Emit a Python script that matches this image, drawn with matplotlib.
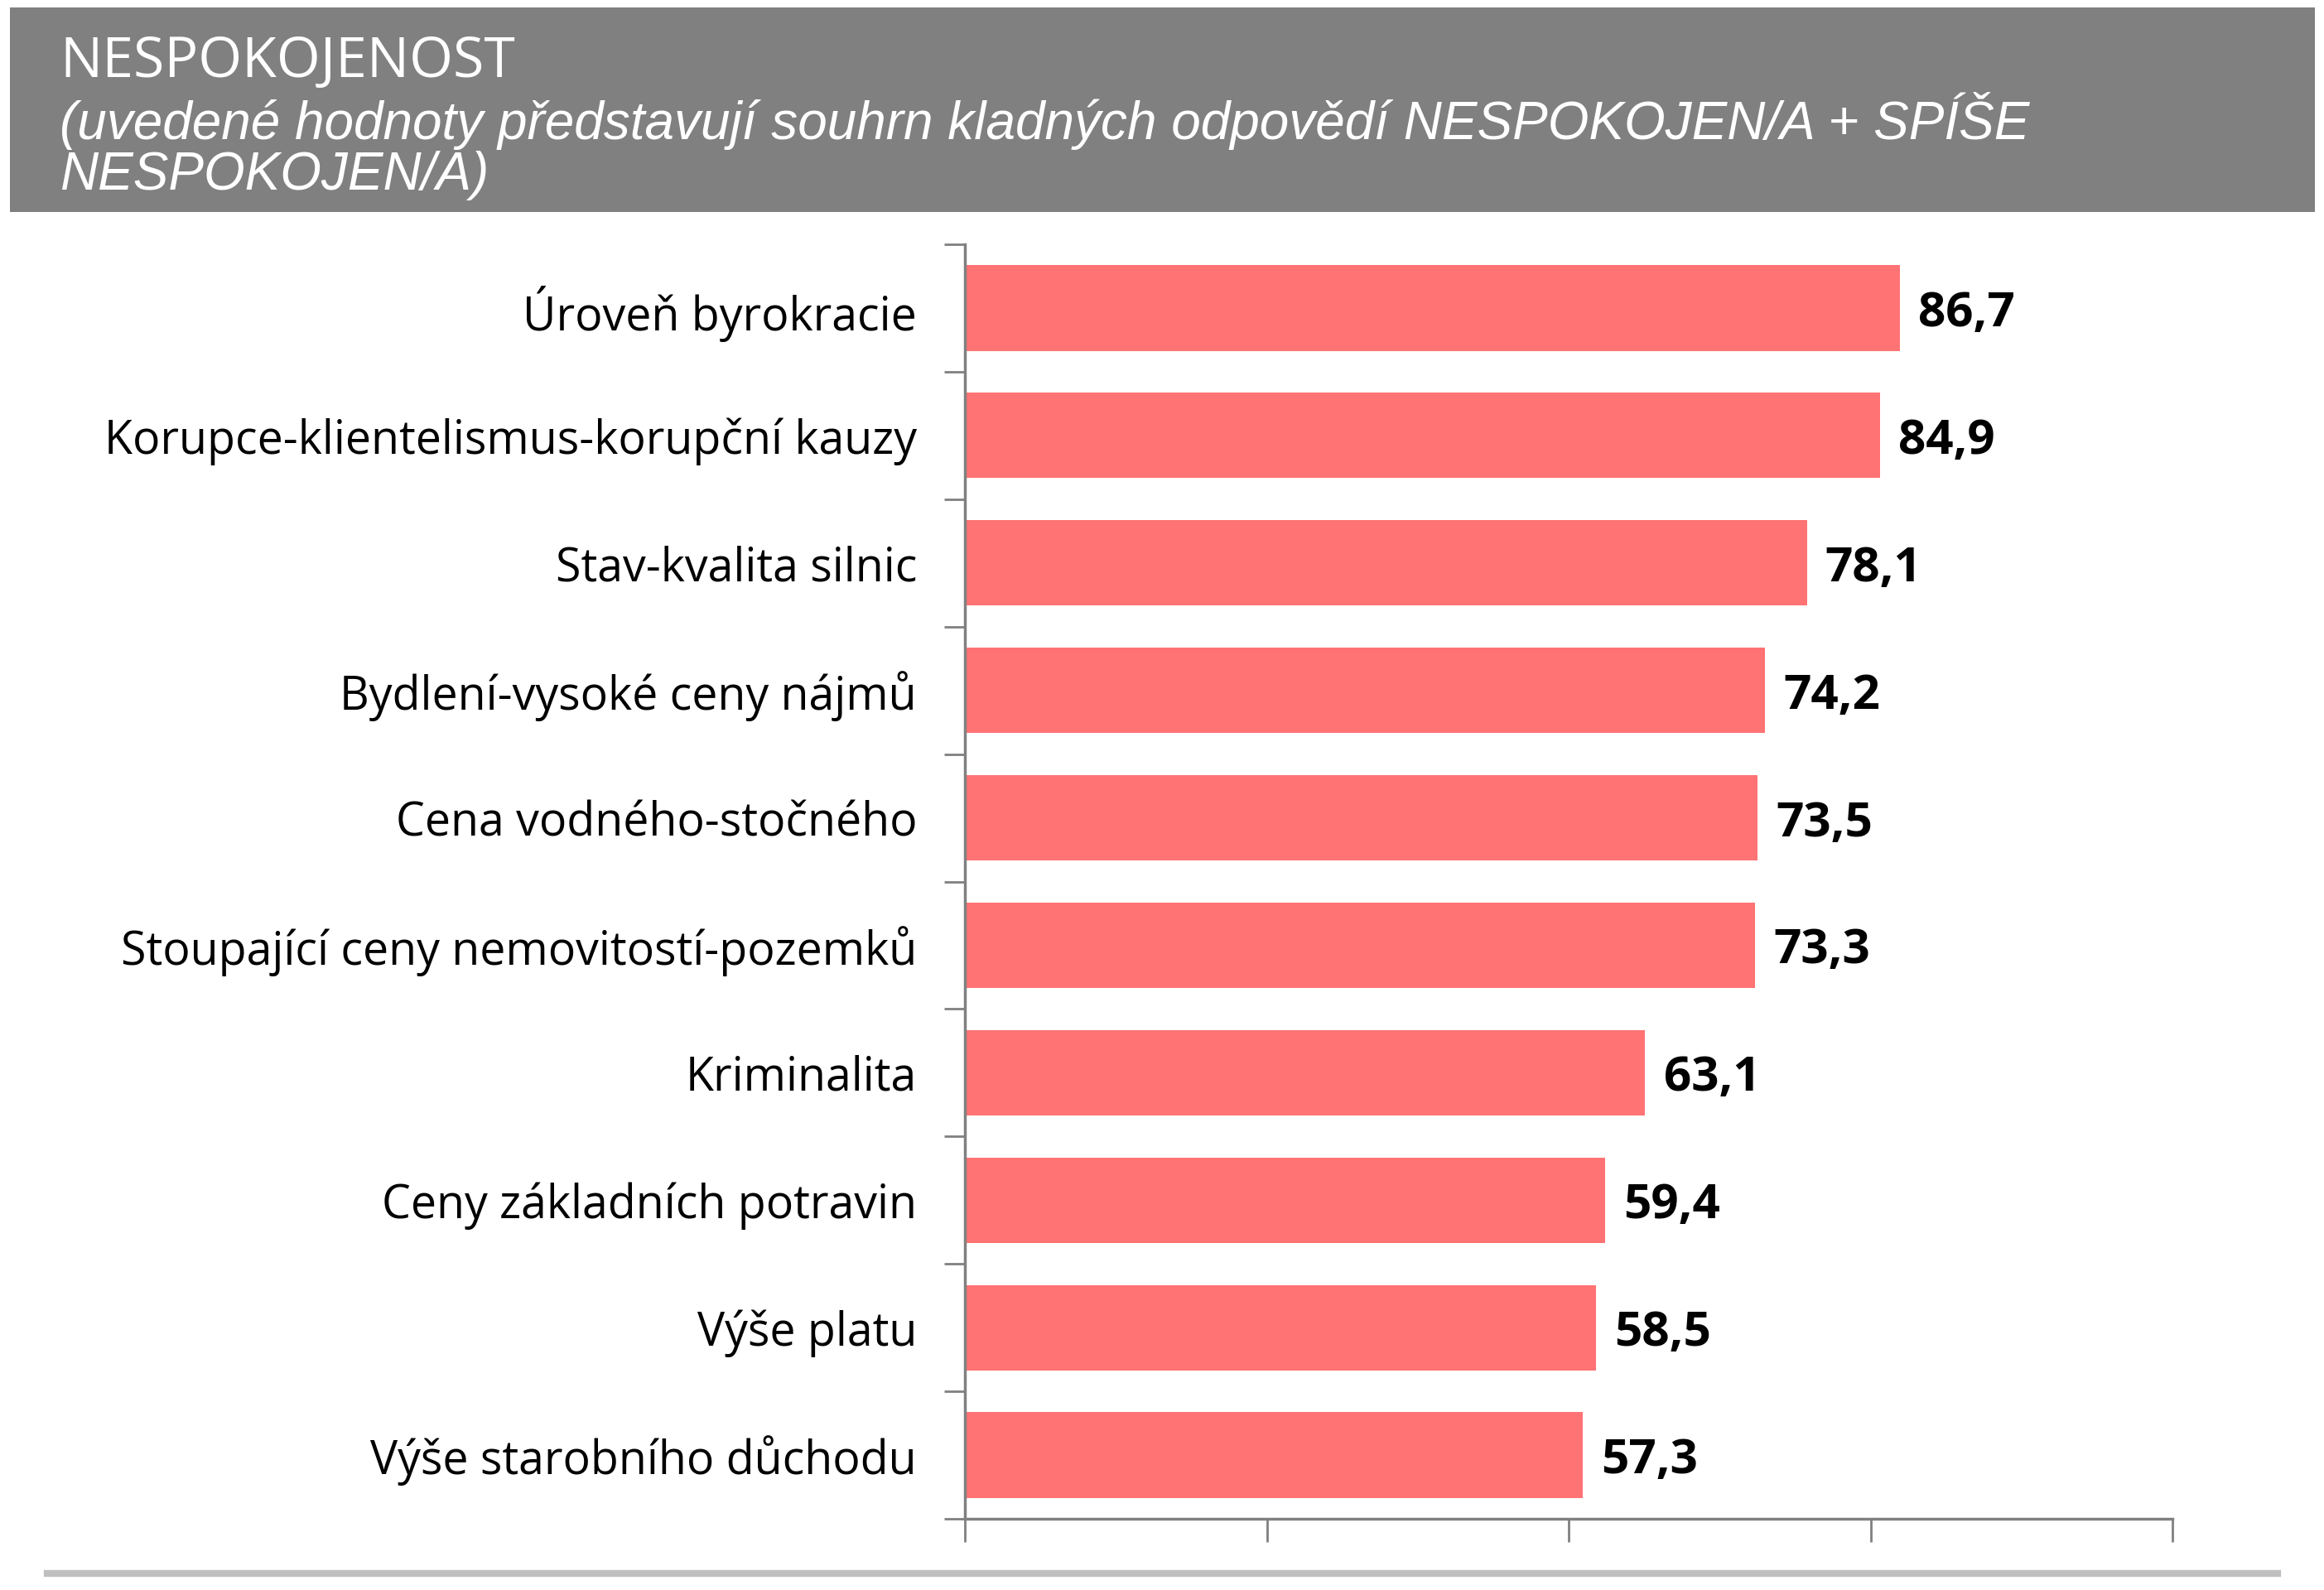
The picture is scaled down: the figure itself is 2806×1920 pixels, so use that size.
import matplotlib.pyplot as plt
from matplotlib.patches import Rectangle
from matplotlib.lines import Line2D

categories = [
    "Úroveň byrokracie",
    "Korupce-klientelismus-korupční kauzy",
    "Stav-kvalita silnic",
    "Bydlení-vysoké ceny nájmů",
    "Cena vodného-stočného",
    "Stoupající ceny nemovitostí-pozemků",
    "Kriminalita",
    "Ceny základních potravin",
    "Výše platu",
    "Výše starobního důchodu",
]
values = [86.7, 84.9, 78.1, 74.2, 73.5, 73.3, 63.1, 59.4, 58.5, 57.3]

title = "NESPOKOJENOST"
subtitle_lines = ["(uvedené hodnoty představují souhrn kladných odpovědí NESPOKOJEN/A + SPÍŠE",
                  "NESPOKOJEN/A)"]

bar_color = "#FF7374"
axis_color = "#808080"

W, H = 2806, 1920
fig = plt.figure(figsize=(W / 100, H / 100), dpi=100)

# grey header band
fig.patches.append(Rectangle((12 / W, 1 - 256 / H), (2795 - 12) / W, (256 - 9) / H,
                             transform=fig.transFigure, facecolor="#808080", edgecolor="none"))
fig.text(72 / W, 1 - 93 / H, title, color="white", fontsize=49,
         family="Open Sans", va="baseline", ha="left")
for line, yb in zip(subtitle_lines, [168, 229]):
    fig.text(72 / W, 1 - yb / H, line, color="white", fontsize=46, style="italic",
             family="Liberation Sans", va="baseline", ha="left")

# bottom grey rule
fig.lines.append(Line2D([57 / W, 2750 / W], [1 - 1900 / H] * 2, transform=fig.transFigure,
                        color="#BFBFBF", linewidth=6))

ax = fig.add_axes([1165 / W, 1 - 1834 / H, (2623 - 1165) / W, (1834 - 295) / H])

n = len(categories)
ypos = list(range(n))
ax.barh(ypos, values, height=0.67, color=bar_color)
ax.set_xlim(0, 112)
ax.set_ylim(n - 0.5, -0.5)

for y, v in zip(ypos, values):
    ax.text(v + 1.7, y, f"{v:.1f}".replace(".", ","), va="center_baseline", ha="left",
            fontsize=42, fontweight="bold", family="Open Sans", color="black")

# category labels
for y, c in zip(ypos, categories):
    ax.text(-4.45, y, c, va="center_baseline", ha="right", fontsize=40,
            family="Open Sans", color="black")

ax.set_yticks([i - 0.5 for i in range(n + 1)])
ax.set_yticklabels([])
ax.set_xticks([0, 28, 56, 84, 112])
ax.set_xticklabels([])
ax.tick_params(axis="both", direction="out", color=axis_color, width=2)
ax.tick_params(axis="x", length=20)
ax.tick_params(axis="y", length=18)

for s in ["top", "right"]:
    ax.spines[s].set_visible(False)
for s in ["left", "bottom"]:
    ax.spines[s].set_color(axis_color)
    ax.spines[s].set_linewidth(2.5)

fig.savefig("out.png", dpi=100)
